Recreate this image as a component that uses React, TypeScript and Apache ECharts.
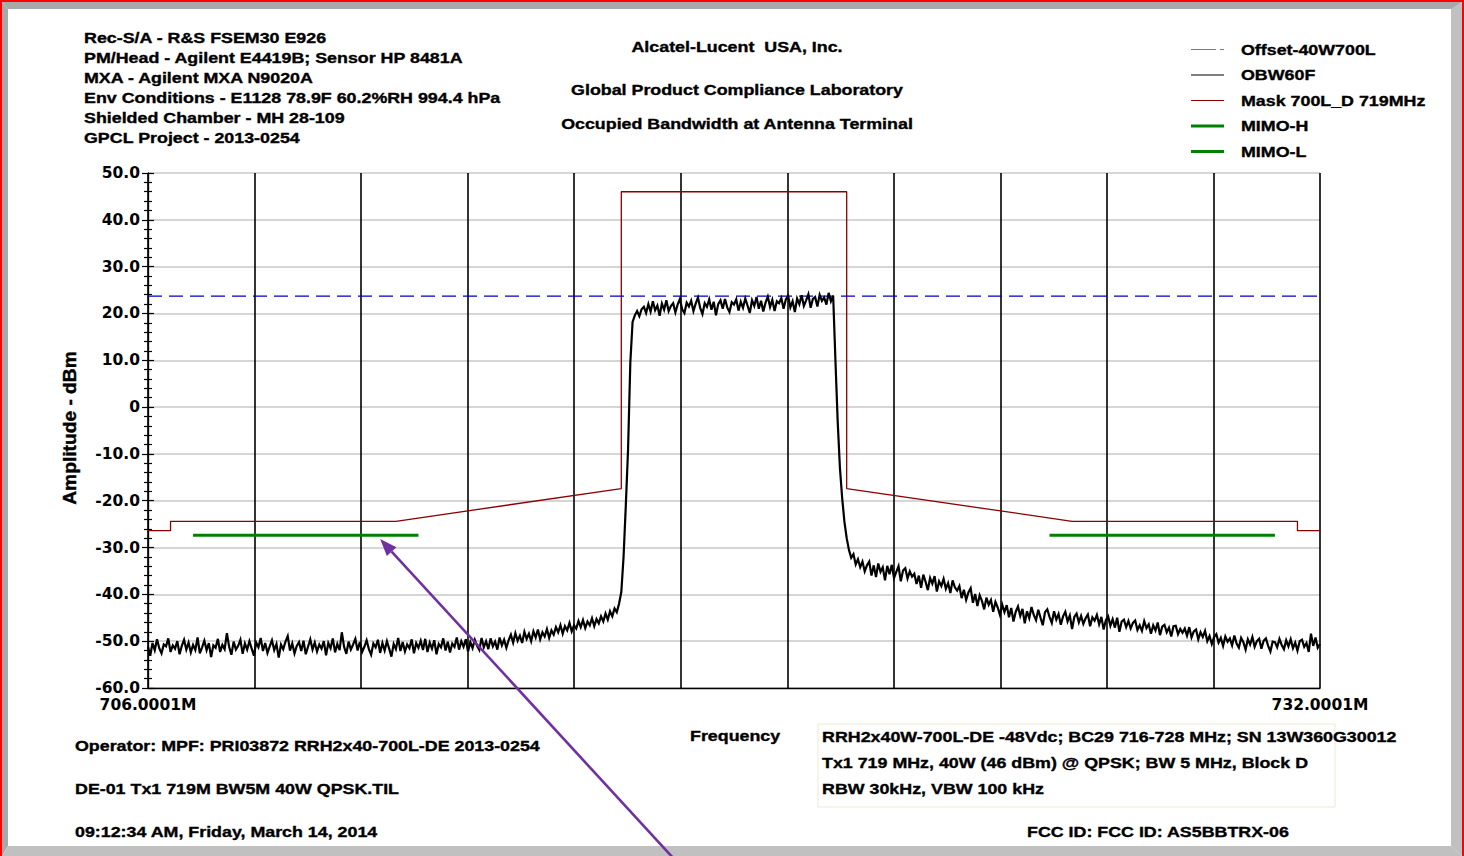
import React, { useEffect, useRef } from "react";
import * as echarts from "echarts";

// Sweep settings of the analyzer trace
const FREQ_START = 706.0001;
const FREQ_END = 732.0001;
const SWEEP_STEP = 0.05;

// OBW60F trace, dBm, one row per MHz (20 points of 0.05 MHz)
const obwTrace: number[] = [
  -51.2, -53.1, -50.4, -51.9, -49.6, -51.5, -52.6, -50.7, -51.1, -49.4, -52.3, -50.9, -51.6, -50.0, -52.8, -51.0, -49.7, -51.8, -50.3, -52.4,
  -50.8, -51.9, -49.2, -52.6, -51.3, -49.9, -51.9, -50.4, -53.4, -50.9, -51.4, -49.5, -52.3, -50.8, -51.7, -48.3, -51.2, -52.9, -50.1, -51.8,
  -51.0, -49.7, -52.7, -50.5, -51.8, -50.0, -51.6, -53.1, -50.3, -51.3, -49.3, -52.1, -50.4, -52.5, -51.1, -49.8, -51.9, -50.6, -53.5, -50.7,
  -51.7, -50.1, -48.9, -52.0, -50.5, -52.6, -51.0, -50.2, -52.1, -49.9, -52.8, -51.2, -49.6, -51.8, -50.3, -52.2, -50.7, -51.6, -50.0, -53.0,
  -50.4, -51.5, -49.4, -52.4, -50.6, -51.9, -48.1, -51.2, -52.7, -50.1, -51.8, -50.7, -49.5, -52.0, -50.2, -52.3, -51.2, -49.8, -51.7, -52.9,
  -50.5, -51.3, -49.7, -52.5, -50.4, -52.0, -50.0, -51.6, -53.3, -50.6, -51.7, -49.3, -52.1, -50.2, -52.2, -50.7, -51.5, -49.6, -52.6, -50.4,
  -51.4, -49.9, -51.9, -49.5, -52.3, -50.3, -51.6, -49.8, -52.8, -50.6, -51.3, -49.4, -52.0, -50.1, -52.4, -50.5, -51.2, -49.2, -51.8, -50.0,
  -51.2, -49.6, -52.2, -50.2, -51.5, -49.7, -51.0, -51.9, -49.3, -51.3, -50.0, -51.7, -49.4, -51.1, -50.1, -51.8, -49.2, -50.9, -49.7, -51.4,
  -49.8, -48.6, -50.3, -48.3, -49.9, -48.8, -50.4, -48.0, -49.5, -48.4, -50.0, -47.9, -49.2, -47.5, -49.6, -48.1, -49.0, -47.4, -49.3, -47.7,
  -48.6, -47.0, -48.1, -46.6, -48.4, -46.8, -47.7, -46.1, -47.9, -46.6, -47.3, -45.7, -47.0, -45.5, -47.2, -45.8, -46.6, -45.1, -46.8, -45.3,
  -46.2, -44.7, -45.8, -44.1, -45.4, -43.6, -44.7, -43.0, -43.8, -42.0, -39.5, -32.0, -21.0, -9.0, 9.5, 18.2, 19.6, 20.5, 19.4, 20.9,
  21.4, 20.1, 22.0, 20.4, 22.6, 20.7, 21.7, 19.5, 22.1, 20.8, 22.8, 20.5, 21.6, 22.2, 20.2, 21.9, 23.1, 20.9, 20.1, 22.3,
  21.5, 22.7, 20.5, 22.1, 23.4, 21.2, 19.9, 22.2, 21.4, 23.0, 20.8, 22.5, 19.6, 22.0, 22.8, 21.0, 23.1, 21.3, 20.3, 22.4,
  21.9, 23.0, 20.6, 22.5, 21.2, 23.2, 21.7, 20.1, 22.8, 21.6, 23.5, 21.0, 22.7, 20.4, 22.3, 23.6, 21.4, 22.9, 20.5, 22.6,
  22.2, 23.3, 21.0, 23.0, 23.8, 21.3, 22.6, 20.3, 23.2, 22.0, 23.9, 21.6, 22.8, 24.1, 21.2, 23.1, 23.5, 21.5, 24.0, 22.7,
  23.4, 21.9, 24.4, 22.6, 23.8, 10.0, -3.0, -13.0, -19.5, -24.5, -28.0, -30.5, -32.2, -31.4, -33.6, -32.5, -34.2, -33.0, -35.1, -33.8,
  -33.0, -36.0, -33.8, -36.3, -33.4, -35.2, -34.2, -37.0, -33.9, -35.7, -33.7, -36.5, -35.2, -34.0, -37.2, -34.9, -34.4, -36.6, -35.1, -36.2,
  -35.6, -37.8, -36.0, -38.6, -35.8, -37.3, -39.1, -36.5, -37.7, -36.1, -39.4, -37.2, -38.2, -36.7, -38.8, -37.6, -39.7, -37.0, -38.5, -39.2,
  -38.2, -40.8, -39.0, -41.2, -39.6, -38.7, -41.8, -39.9, -42.5, -40.2, -41.4, -43.2, -40.7, -42.2, -41.2, -43.7, -41.6, -42.8, -44.4, -42.2,
  -43.8, -42.3, -44.9, -42.9, -45.8, -43.7, -42.6, -44.6, -43.1, -46.2, -43.6, -45.1, -42.7, -44.4, -45.5, -43.3, -45.0, -46.6, -43.8, -43.2,
  -44.8, -46.1, -43.6, -45.4, -44.2, -46.5, -44.7, -43.7, -45.8, -44.5, -47.4, -44.8, -44.1, -46.0, -44.6, -46.3, -45.1, -44.3, -46.8, -44.9,
  -45.6, -44.4, -46.4, -44.8, -47.5, -45.5, -44.7, -46.7, -45.3, -47.1, -45.0, -48.0, -45.8, -45.4, -47.0, -45.7, -47.3, -46.1, -45.6, -47.6,
  -46.6, -47.8, -45.7, -47.2, -46.4, -48.4, -46.6, -47.7, -46.0, -48.7, -46.9, -46.5, -48.1, -47.1, -49.0, -46.8, -46.7, -48.5, -47.4, -48.2,
  -47.3, -48.8, -47.0, -49.2, -47.9, -47.5, -49.6, -48.1, -49.1, -47.8, -50.0, -48.9, -50.6, -49.1, -48.5, -50.3, -49.3, -51.0, -49.0, -50.1,
  -49.4, -50.9, -48.8, -50.5, -51.4, -49.3, -50.2, -51.8, -49.6, -50.7, -49.1, -51.2, -50.0, -49.5, -51.6, -49.9, -49.4, -51.0, -52.2, -50.1,
  -50.2, -51.3, -49.5, -50.8, -51.7, -49.8, -51.1, -49.6, -51.5, -50.3, -52.0, -50.0, -49.7, -51.2, -50.4, -52.3, -48.4, -51.0, -49.2, -51.4,
  -50.6,
];

// Emission mask 700L_D around 719 MHz
const maskFreqs = [706.0001, 706.5, 706.5, 711.5, 716.5, 716.5, 721.5, 721.5, 726.5, 731.5, 731.5, 732.0001];
const maskLevels = [-26.4, -26.4, -24.4, -24.4, -17.4, 46, 46, -17.4, -24.4, -24.4, -26.4, -26.4];

// MIMO limit segments
const mimoLowFreqs = [707.0, 712.0];
const mimoLowLevels = [-27.4, -27.4];
const mimoHighFreqs = [726.0, 731.0];
const mimoHighLevels = [-27.4, -27.4];

// Offset reference level
const offsetLevel = 23.7;

// Axis setup
const Y_MIN = -60;
const Y_MAX = 50;
const Y_STEP = 10;
const X_DIVISIONS = 11;
const xEndLabels = ["706.0001M", "732.0001M"];

// Arrow annotation tip (pointing at the low MIMO limit)
const arrowTipFreq = 711.15;
const arrowTipLevel = -28.2;

const headerLines = [
  "Rec-S/A - R&S FSEM30 E926",
  "PM/Head - Agilent E4419B; Sensor HP 8481A",
  "MXA - Agilent MXA N9020A",
  "Env Conditions - E1128 78.9F 60.2%RH 994.4 hPa",
  "Shielded Chamber - MH 28-109",
  "GPCL Project - 2013-0254",
];
const titleLines = [
  "Alcatel-Lucent  USA, Inc.",
  "Global Product Compliance Laboratory",
  "Occupied Bandwidth at Antenna Terminal",
];
const footerLines = [
  "Operator: MPF: PRI03872 RRH2x40-700L-DE 2013-0254",
  "DE-01 Tx1 719M BW5M 40W QPSK.TIL",
  "09:12:34 AM, Friday, March 14, 2014",
];
const descriptionLines = [
  "RRH2x40W-700L-DE -48Vdc; BC29 716-728 MHz; SN 13W360G30012",
  "Tx1 719 MHz, 40W (46 dBm) @ QPSK; BW 5 MHz, Block D",
  "RBW 30kHz, VBW 100 kHz",
];
const fccLine = "FCC ID: FCC ID: AS5BBTRX-06";

const SERIES = {
  offset: { name: "Offset-40W700L", color: "#0000c8", legendColor: "#6a6aff", width: 1.2 },
  obw: { name: "OBW60F", color: "#000000", legendColor: "#000000", width: 1.2 },
  mask: { name: "Mask 700L_D 719MHz", color: "#8b0000", legendColor: "#8b0000", width: 1.2 },
  mimoH: { name: "MIMO-H", color: "#008000", legendColor: "#008000", width: 3 },
  mimoL: { name: "MIMO-L", color: "#008000", legendColor: "#008000", width: 3 },
};
const legendOrder = [SERIES.offset, SERIES.obw, SERIES.mask, SERIES.mimoH, SERIES.mimoL];

const TEXT_FONT = '"Liberation Sans", Arial, sans-serif';
const AXIS_FONT = '"DejaVu Sans", Verdana, sans-serif';
const STRETCH = 1.19;

const zip = (xs: number[], ys: number[]) => xs.map((x, i) => [x, ys[i]]);

function textEl(text: string, x: number, y: number, align: "left" | "center" = "left", extra: any = {}) {
  return {
    type: "text",
    x,
    y,
    scaleX: STRETCH,
    z: 50,
    style: {
      text,
      fill: "#000",
      stroke: "#000",
      lineWidth: 0.35,
      fontFamily: TEXT_FONT,
      fontWeight: "bold",
      fontSize: 15,
      align,
      verticalAlign: "middle",
      textAlign: align,
      textVerticalAlign: "middle",
    },
    ...extra,
  };
}

function buildOption(): any {
  const trace = obwTrace.map((v, i) => [FREQ_START + i * SWEEP_STEP, v]);
  return {
    animation: false,
    backgroundColor: "#ffffff",
    grid: { left: 148, top: 173, width: 1172, height: 515 },
    xAxis: [
      { type: "value", min: FREQ_START, max: FREQ_END, show: false },
      {
        type: "value",
        min: 0,
        max: X_DIVISIONS,
        interval: 1,
        position: "bottom",
        axisLine: { show: true, onZero: false, lineStyle: { color: "#000", width: 1.3 } },
        axisTick: { show: false },
        axisLabel: {
          show: true,
          showMinLabel: true,
          showMaxLabel: true,
          margin: 9,
          color: "#000",
          fontFamily: AXIS_FONT,
          fontWeight: "bold",
          fontSize: 15.5,
          formatter: (v: number) => (v === 0 ? xEndLabels[0] : v === X_DIVISIONS ? xEndLabels[1] : ""),
        },
        splitLine: { show: true, lineStyle: { color: "#000", width: 1.6 } },
      },
    ],
    yAxis: [
      {
        type: "value",
        min: Y_MIN,
        max: Y_MAX,
        interval: Y_STEP,
        position: "left",
        axisLine: { show: true, onZero: false, lineStyle: { color: "#000", width: 1.3 } },
        axisTick: { show: true, length: 6, lineStyle: { color: "#000", width: 1.2 } },
        minorTick: { show: true, splitNumber: 5, length: 4, lineStyle: { color: "#000", width: 1.2 } },
        axisLabel: {
          margin: 8,
          color: "#000",
          fontFamily: AXIS_FONT,
          fontWeight: "bold",
          fontSize: 15.5,
          formatter: (v: number) => (v === 0 ? "0" : v.toFixed(1)),
        },
        splitLine: { show: true, lineStyle: { color: "#c8c8c8", width: 1.5 } },
      },
      {
        type: "value",
        min: Y_MIN,
        max: Y_MAX,
        interval: Y_STEP,
        position: "left",
        axisLine: { show: false, onZero: false },
        axisTick: { show: true, inside: true, length: 6, lineStyle: { color: "#000", width: 1.2 } },
        minorTick: { show: true, splitNumber: 5, length: 4, lineStyle: { color: "#000", width: 1.2 } },
        axisLabel: { show: false },
        splitLine: { show: false },
      },
    ],
    series: [
      {
        name: SERIES.obw.name,
        type: "line",
        xAxisIndex: 0,
        yAxisIndex: 0,
        data: trace,
        symbol: "none",
        z: 4,
        lineStyle: { color: SERIES.obw.color, width: 2.2, join: "miter" },
      },
      {
        name: SERIES.mask.name,
        type: "line",
        xAxisIndex: 0,
        yAxisIndex: 0,
        data: zip(maskFreqs, maskLevels),
        symbol: "none",
        z: 3,
        lineStyle: { color: SERIES.mask.color, width: 1.3 },
      },
      {
        name: SERIES.mimoL.name,
        type: "line",
        xAxisIndex: 0,
        yAxisIndex: 0,
        data: zip(mimoLowFreqs, mimoLowLevels),
        symbol: "none",
        z: 3,
        lineStyle: { color: SERIES.mimoL.color, width: 3 },
      },
      {
        name: SERIES.mimoH.name,
        type: "line",
        xAxisIndex: 0,
        yAxisIndex: 0,
        data: zip(mimoHighFreqs, mimoHighLevels),
        symbol: "none",
        z: 3,
        lineStyle: { color: SERIES.mimoH.color, width: 3 },
      },
      {
        name: SERIES.offset.name,
        type: "line",
        xAxisIndex: 0,
        yAxisIndex: 0,
        data: [
          [FREQ_START, offsetLevel],
          [FREQ_END, offsetLevel],
        ],
        symbol: "none",
        z: 3,
        lineStyle: { color: SERIES.offset.color, width: 1.2, type: [14, 7] },
      },
    ],
  };
}

function buildGraphics(tip: number[]): any[] {
  const els: any[] = [];

  // Page frame: red outline with grey bevel
  els.push({ type: "polygon", z: 1, shape: { points: [[2, 2], [1462, 2], [1452, 9], [8, 9]] }, style: { fill: "#a8a8a8" } });
  els.push({ type: "polygon", z: 1, shape: { points: [[2, 2], [8, 9], [8, 846], [2, 856]] }, style: { fill: "#a8a8a8" } });
  els.push({ type: "polygon", z: 1, shape: { points: [[1462, 2], [1462, 856], [1451, 846], [1451, 9]] }, style: { fill: "#c0c0c0" } });
  els.push({ type: "polygon", z: 1, shape: { points: [[2, 856], [1462, 856], [1451, 846], [8, 846]] }, style: { fill: "#c0c0c0" } });
  els.push({ type: "rect", z: 2, shape: { x: 0, y: 0, width: 1464, height: 2 }, style: { fill: "#ff0000" } });
  els.push({ type: "rect", z: 2, shape: { x: 0, y: 0, width: 2, height: 856 }, style: { fill: "#ff0000" } });
  els.push({ type: "rect", z: 2, shape: { x: 1462, y: 0, width: 2, height: 856 }, style: { fill: "#ff0000" } });

  // Instrument header
  headerLines.forEach((t, i) => els.push(textEl(t, 84, 38 + i * 20)));
  // Lab titles
  const titleY = [47, 90, 124];
  titleLines.forEach((t, i) => els.push(textEl(t, 737, titleY[i], "center")));

  // Legend
  legendOrder.forEach((s, i) => {
    const y = 49.5 + i * 25.5;
    els.push({
      type: "line",
      z: 50,
      shape: { x1: 1191, y1: y, x2: 1224, y2: y },
      style: {
        stroke: s.legendColor,
        lineWidth: s.width,
        lineDash: s === SERIES.offset ? [25, 4] : null,
      },
    });
    els.push(textEl(s.name, 1241, y));
  });

  // Axis titles
  els.push({
    type: "text",
    x: 70,
    y: 428,
    rotation: Math.PI / 2,
    scaleX: 1.2,
    scaleY: STRETCH,
    z: 50,
    style: {
      text: "Amplitude - dBm",
      fill: "#000",
      stroke: "#000",
      lineWidth: 0.35,
      fontFamily: TEXT_FONT,
      fontWeight: "bold",
      fontSize: 16,
      align: "center",
      verticalAlign: "middle",
      textAlign: "center",
      textVerticalAlign: "middle",
    },
  });
  els.push(textEl("Frequency", 690, 736));

  // Footer
  const footerY = [746, 789, 832];
  footerLines.forEach((t, i) => els.push(textEl(t, 75, footerY[i])));
  els.push({
    type: "rect",
    z: 40,
    shape: { x: 818, y: 724, width: 517, height: 83 },
    style: { fill: "none", stroke: "#efe8d2", lineWidth: 1 },
  });
  const descY = [737, 763, 789];
  descriptionLines.forEach((t, i) => els.push(textEl(t, 822, descY[i])));
  els.push(textEl(fccLine, 1027, 832));

  // Arrow annotation
  const tail = [675, 860];
  const dx = tip[0] - tail[0];
  const dy = tip[1] - tail[1];
  const len = Math.hypot(dx, dy);
  const ux = dx / len;
  const uy = dy / len;
  const headLen = 17;
  const headHalf = 6.5;
  const bx = tip[0] - ux * headLen;
  const by = tip[1] - uy * headLen;
  els.push({
    type: "line",
    z: 100,
    shape: { x1: tail[0], y1: tail[1], x2: bx, y2: by },
    style: { stroke: "#7030a0", lineWidth: 2.6 },
  });
  els.push({
    type: "polygon",
    z: 100,
    shape: {
      points: [
        [tip[0], tip[1]],
        [bx - uy * headHalf, by + ux * headHalf],
        [bx + uy * headHalf, by - ux * headHalf],
      ],
    },
    style: { fill: "#7030a0" },
  });

  return els;
}

export default function App() {
  const ref = useRef<HTMLDivElement>(null);
  useEffect(() => {
    const el = ref.current;
    if (!el) return;
    const chart = echarts.init(el, undefined, { renderer: "svg" });
    chart.setOption(buildOption());
    const tip = chart.convertToPixel({ seriesIndex: 0 }, [arrowTipFreq, arrowTipLevel]) as number[];
    chart.setOption({ graphic: { elements: buildGraphics(tip) } });
    return () => chart.dispose();
  }, []);
  return (
    <div
      ref={ref}
      style={{ position: "fixed", left: 0, top: 0, width: 1464, height: 856, background: "#fff" }}
    />
  );
}
